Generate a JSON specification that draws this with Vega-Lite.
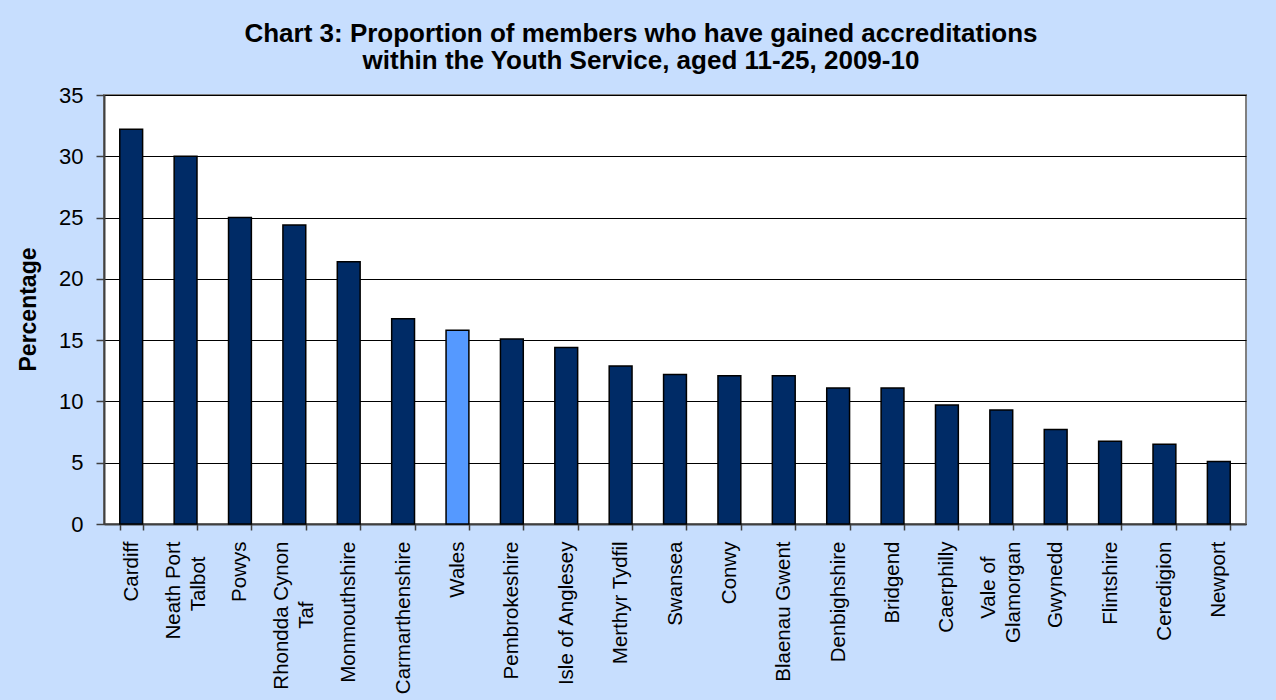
{
  "$schema": "https://vega.github.io/schema/vega-lite/v6.json",
  "width": 1142,
  "height": 429,
  "autosize": {"type": "none"},
  "padding": {"left": 104, "top": 95, "right": 30, "bottom": 176},
  "background": "#C7DEFE",
  "config": {
    "view": {"fill": "white", "stroke": "#808080", "strokeWidth": 2},
    "font": "Liberation Sans"
  },
  "title": {
    "text": ["Chart 3: Proportion of members who have gained accreditations", "within the Youth Service, aged 11-25, 2009-10"],
    "font": "Liberation Sans",
    "fontSize": 26,
    "fontWeight": "bold",
    "color": "black",
    "lineHeight": 27,
    "anchor": "middle",
    "frame": "group",
    "dx": -34,
    "dy": 37,
    "offset": 26,
    "baseline": "alphabetic"
  },
  "data": {
    "values": [
      {"area": "Cardiff", "pct": 32.2},
      {"area": "Neath Port Talbot", "pct": 30.0},
      {"area": "Powys", "pct": 25.0},
      {"area": "Rhondda Cynon Taf", "pct": 24.4},
      {"area": "Monmouthshire", "pct": 21.4},
      {"area": "Carmarthenshire", "pct": 16.75},
      {"area": "Wales", "pct": 15.8},
      {"area": "Pembrokeshire", "pct": 15.1},
      {"area": "Isle of Anglesey", "pct": 14.4},
      {"area": "Merthyr Tydfil", "pct": 12.9},
      {"area": "Swansea", "pct": 12.2},
      {"area": "Conwy", "pct": 12.1},
      {"area": "Blaenau Gwent", "pct": 12.1},
      {"area": "Denbighshire", "pct": 11.1},
      {"area": "Bridgend", "pct": 11.1},
      {"area": "Caerphilly", "pct": 9.7},
      {"area": "Vale of Glamorgan", "pct": 9.3},
      {"area": "Gwynedd", "pct": 7.7},
      {"area": "Flintshire", "pct": 6.75},
      {"area": "Ceredigion", "pct": 6.5},
      {"area": "Newport", "pct": 5.1}
    ]
  },
  "mark": {"type": "bar", "stroke": "black", "strokeWidth": 1.5},
  "encoding": {
    "x": {
      "field": "area",
      "type": "nominal",
      "sort": null,
      "scale": {"paddingInner": 0.58, "paddingOuter": 0.29},
      "axis": {
        "title": null,
        "labelAngle": -90,
        "labelFont": "Liberation Sans",
        "labelFontSize": 20.5,
        "labelColor": "black",
        "labelPadding": 11,
        "labelLineHeight": 25,
        "labelLimit": 400,
        "labelOffset": {
          "condition": {"test": "indexof(['Neath Port Talbot', 'Rhondda Cynon Taf', 'Vale of Glamorgan'], datum.value) >= 0", "value": -12.5},
          "value": 0
        },
        "tickBand": "extent",
        "tickSize": 6,
        "tickColor": "#404040",
        "tickWidth": 1.5,
        "domainColor": "#404040",
        "domainWidth": 2,
        "labelExpr": "datum.value == 'Neath Port Talbot' ? ['Neath Port', 'Talbot\u2800'] : datum.value == 'Rhondda Cynon Taf' ? ['Rhondda Cynon', 'Taf\u2800\u2800\u2800\u2800'] : datum.value == 'Vale of Glamorgan' ? ['Vale of\u2800', 'Glamorgan'] : datum.label"
      }
    },
    "y": {
      "field": "pct",
      "type": "quantitative",
      "scale": {"domain": [0, 35], "nice": false},
      "axis": {
        "title": "Percentage",
        "values": [0, 5, 10, 15, 20, 25, 30, 35],
        "grid": true,
        "gridColor": "black",
        "gridWidth": 1,
        "tickSize": 8,
        "tickColor": "#404040",
        "tickWidth": 1.5,
        "domainColor": "#404040",
        "domainWidth": 2,
        "labelFont": "Liberation Sans",
        "labelFontSize": 22,
        "labelColor": "black",
        "labelPadding": 13,
        "titleFont": "Liberation Sans",
        "titleFontSize": 23,
        "titleFontWeight": "bold",
        "titleColor": "black",
        "titleX": -69,
        "titleY": 214,
        "titleBaseline": "alphabetic",
        "titleAngle": -90,
        "titleAlign": "center"
      }
    },
    "color": {
      "condition": {"test": "datum.area === 'Wales'", "value": "#5599FF"},
      "value": "#002B66"
    }
  }
}
